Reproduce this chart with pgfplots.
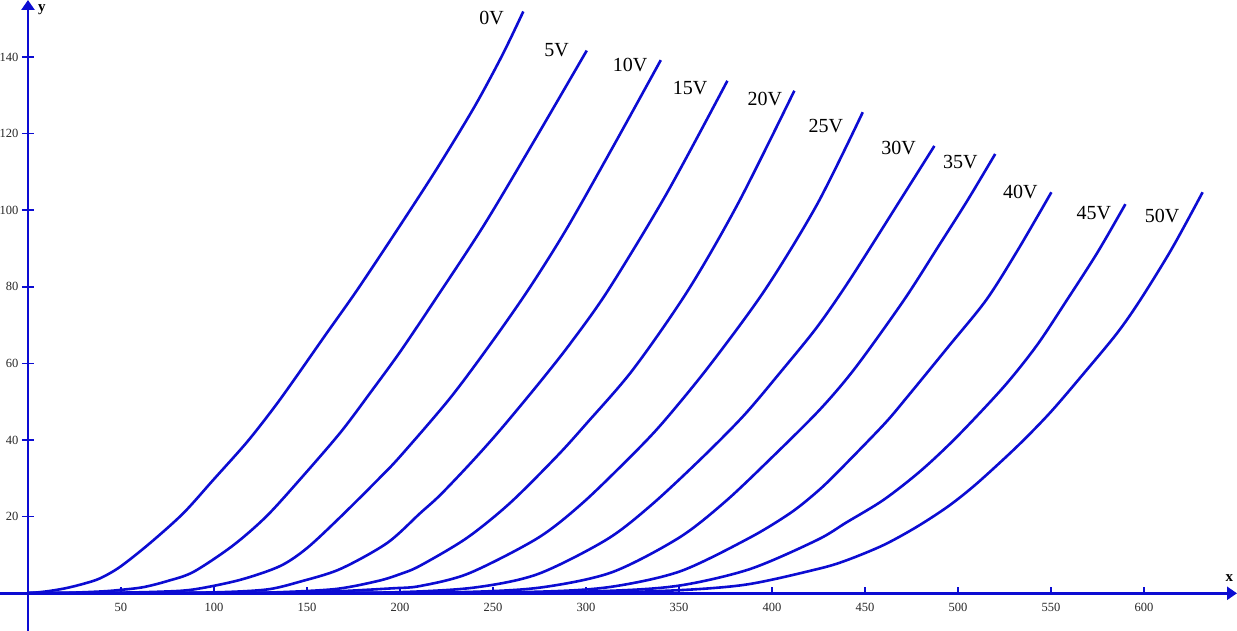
\documentclass[border=0pt]{standalone}
\usepackage{fontspec}
\setmainfont{Liberation Serif}
\usepackage{pgfplots}
\pgfplotsset{compat=1.18}
\usetikzlibrary{arrows.meta}
\definecolor{cblue}{RGB}{12,12,210}
\tikzset{curve/.style={draw=cblue, solid, mark=none, line width=2.6pt, smooth, tension=0.5}}
\begin{document}
\begin{tikzpicture}
\begin{axis}[
  scale only axis, width=1237pt, height=631pt,
  xmin=-15.05, xmax=650, ymin=-9.84, ymax=154.9,
  axis lines=middle,
  axis line style={draw=cblue, line width=2.6pt, -{Triangle[length=10pt,width=13pt]}},
  xtick={50,100,...,600}, ytick={20,40,...,140},
  tick style={draw=cblue, line width=1.6pt},
  major tick length=12pt,
  tick align=center,
  xtick style={/pgfplots/major tick length=6pt, yshift=3pt},
  ticklabel style={font=\fontsize{12.5}{13}\selectfont, text=black!85},
  /pgf/number format/assume math mode=true,
  clip=false,
]
% 0V
\addplot[curve] table {
0 0
10 0.5
20 1.3
30 2.5
38.7 3.9
49.5 6.9
65.6 13.1
83.5 20.9
99.6 29.6
117.6 39.4
132 48.3
143 55.7
160 67.5
177 79.2
200 96
220 111
240 127
255 140.5
266.3 151.9
};
% 5V
\addplot[curve] table {
0 0
20 0.1
40 0.5
50 0.9
62 1.6
75 3.2
89 5.6
110 12.4
128 20
146 29.6
168 42
185 53
200 63
218 76
245 96
272 118
300.4 141.7
};
% 10V
\addplot[curve] table {
0 0
40 0.1
70 0.4
89 1.0
114 3.5
135.5 7.1
150 11.8
167.7 19.8
188 29.6
200 35.7
227 51
250 66
270 80
290 95.5
315 117
340.2 139.2
};
% 15V
\addplot[curve] table {
0 0
80 0.1
110 0.4
130 1.1
146 3.0
167.7 6.3
193 13.1
210.8 20.9
221.5 25.6
238 34
253.8 42.6
275 55
292 65.5
312 79.2
343.4 104.4
376 133.8
};
% 20V
\addplot[curve] table {
0 0
100 0.1
130 0.2
165 1.1
188 3.2
200 5.0
210.8 7.2
235.8 14.4
259 23.5
284.2 35.7
300.4 44.4
325.4 58.5
355 79.2
382 102
412 131.2
};
% 25V
\addplot[curve] table {
0 0
120 0.1
160 0.4
196 1.3
210.8 1.9
237 5.2
274 14.4
298 23.5
324 35.7
341 44.4
366 59.2
396.2 79.2
424.2 101.5
448.8 125.6
};
% 30V
\addplot[curve] table {
0 0
150 0.1
200 0.3
240 1.5
274 5
311 14
335 23
362 35.2
385 46.5
405 58
424.2 69.5
442 82
469 102.7
487.3 116.8
};
% 35V
\addplot[curve] table {
0 0
180 0.1
240 0.4
277 1.6
314 5.5
350 14.5
375 24
400 35.5
425.8 48
445 59
471 76.6
490 91
505 102.5
520 114.7
};
% 40V
\addplot[curve] table {
0 0
210 0.1
280 0.5
315 1.8
351 5.8
388 14.5
410 21
424.2 26.5
435 31.5
460 44
472.6 51.2
495 64.5
515.2 76.6
532 89.5
550.2 104.7
};
% 45V
\addplot[curve] table {
0 0
240 0.1
310 0.6
350 2
388 6.3
424.2 13.9
440 18.5
460 24.4
480 32
499.5 40.9
524.6 53.9
542.5 64.8
558.6 76.6
575 89
590 101.6
};
% 50V
\addplot[curve] table {
0 0
270 0.1
340 0.6
385 2.2
424.2 6.3
440 8.6
460 12.6
478 17.4
495 22.8
510.2 28.7
531.7 38.3
549.6 47.2
567.6 57.4
585.5 67.9
598 76.6
615 90
631.5 104.7
};
\begin{scope}[font=\fontsize{20}{22}\selectfont]
\node at (axis cs:249.3,150.1) {0V};
\node at (axis cs:284.2,141.8) {5V};
\node at (axis cs:323.7,137.9) {10V};
\node at (axis cs:355.9,131.9) {15V};
\node at (axis cs:396.2,129.1) {20V};
\node at (axis cs:429.0,122.0) {25V};
\node at (axis cs:468.1,116.3) {30V};
\node at (axis cs:501.2,112.7) {35V};
\node at (axis cs:533.5,104.9) {40V};
\node at (axis cs:573.0,99.2) {45V};
\node at (axis cs:609.7,98.6) {50V};
\end{scope}
\node[font=\fontsize{15}{16}\selectfont\bfseries] at (axis cs:7.4,152.3) {y};
\node[font=\fontsize{15}{16}\selectfont\bfseries] at (axis cs:645.9,3.9) {x};
\end{axis}
\pgfresetboundingbox
\useasboundingbox (current axis.south west) rectangle (current axis.north east);
\end{tikzpicture}
\end{document}
